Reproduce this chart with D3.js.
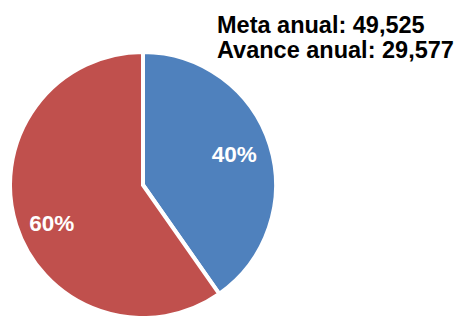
<!DOCTYPE html>
<html>
<head>
<meta charset="utf-8">
<script src="https://cdn.jsdelivr.net/npm/d3@7"></script>
<style>
  html, body { margin: 0; padding: 0; background: #fff; }
  #chart { width: 461px; height: 316px; }
</style>
</head>
<body>
<div id="chart"></div>
<script>
const labels = ["Pendiente", "Avance"];
const values = [19948, 29577];
const pctLabels = ["40%", "60%"];
const colors = ["#4F81BD", "#C0504D"];
const titleLines = ["Meta anual: 49,525", "Avance anual: 29,577"];

const width = 461, height = 316;
const cx = 143, cy = 185, radius = 133;
// small vertical nudges so the labels sit where Excel put them
const labelNudge = [-2, 9];

const svg = d3.select("#chart")
    .append("svg")
    .attr("width", width)
    .attr("height", height);

const pie = d3.pie().sort(null).value(d => d)(values);
const arc = d3.arc().innerRadius(0).outerRadius(radius);
const labelArc = d3.arc().innerRadius(radius * 0.72).outerRadius(radius * 0.72);

const g = svg.append("g")
    .attr("transform", `translate(${cx},${cy})`);

g.selectAll(".slice")
    .data(pie)
    .enter()
    .append("path")
    .attr("class", "slice")
    .attr("d", arc)
    .attr("fill", (d, i) => colors[i])
    .attr("stroke", "#fff")
    .attr("stroke-width", 4);

g.selectAll(".pct")
    .data(pie)
    .enter()
    .append("text")
    .attr("class", "pct")
    .attr("transform", (d, i) => {
        const [x, y] = labelArc.centroid(d);
        return `translate(${x},${y + labelNudge[i]})`;
    })
    .attr("text-anchor", "middle")
    .attr("dy", "0.35em")
    .attr("fill", "#fff")
    .style("font-family", "'Liberation Sans', Arial, sans-serif")
    .style("font-size", "22.5px")
    .style("font-weight", "bold")
    .text((d, i) => pctLabels[i]);

svg.selectAll(".title")
    .data(titleLines)
    .enter()
    .append("text")
    .attr("class", "title")
    .attr("x", 217)
    .attr("y", (d, i) => 33 + i * 25)
    .attr("fill", "#000")
    .style("font-family", "'Liberation Sans', Arial, sans-serif")
    .style("font-size", "23.5px")
    .style("font-weight", "bold")
    .text(d => d);
</script>
</body>
</html>
